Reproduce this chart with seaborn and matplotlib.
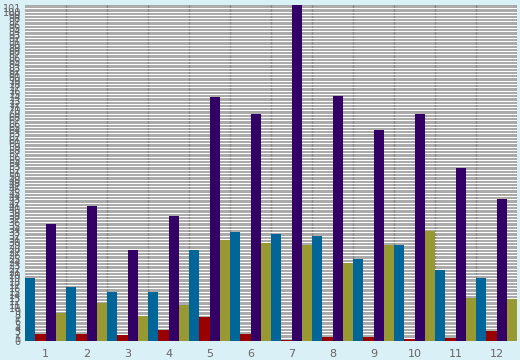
import numpy as np
import pandas as pd
import matplotlib
matplotlib.use("Agg")
import matplotlib.pyplot as plt
import seaborn as sns

groups = [str(i) for i in range(1, 13)]
series = ["A", "B", "C", "D"]
blue = [19, 16.4, 15, 15, 27.5, 33, 32.5, 32, 25, 29, 21.5, 19]
red = [2, 2, 1.8, 3.3, 7.3, 2, 0.3, 1.2, 1.2, 0.6, 0.9, 3]
purple = [35.5, 41, 27.5, 38, 74, 69, 102, 74.5, 64, 69, 52.5, 43]
olive = [8.5, 11.5, 7.6, 11, 30.6, 29.7, 29, 23.6, 29, 33.3, 13, 12.7]
colors = ["#006699", "#990000", "#330066", "#999933"]

df = pd.DataFrame({
    "group": groups * 4,
    "series": np.repeat(series, 12),
    "value": blue + red + purple + olive,
})

sns.set_style("white")
fig = plt.figure(figsize=(5.2, 3.6), dpi=100, facecolor="#daf0f7")
ax = fig.add_axes([25 / 520, 19 / 360, 492 / 520, 336 / 360])
ax.set_facecolor("#aaaaaa")

sns.barplot(data=df, x="group", y="value", hue="series", palette=colors,
            width=1.0, dodge=True, saturation=1, legend=False, ax=ax,
            edgecolor="none", linewidth=0, zorder=3)

# y axis: one tick per unit, labels crowd together like the original
ax.set_ylim(0, 102)
ax.set_xlim(-0.5, 11.5)
ax.set_yticks(np.arange(0, 102, 1))
ax.set_yticklabels([str(v) for v in range(0, 102)], fontsize=7, color="#666666")
ax.yaxis.grid(True, color="white", linewidth=0.75, zorder=0)
ax.set_axisbelow(True)

ax.set_xticks(range(12))
ax.set_xticklabels(groups, fontsize=8, color="#666666")
ax.set_xticks(np.arange(0.5, 11.6, 1), minor=True)
ax.tick_params(axis="x", which="major", length=0, pad=6)
ax.tick_params(axis="x", which="minor", length=7, color="#888888", width=1)
ax.tick_params(axis="y", length=2, color="#777777", width=1, pad=1)
ax.xaxis.grid(True, which="minor", color="#888888", linewidth=1)
ax.xaxis.grid(False, which="major")

for s in ax.spines.values():
    s.set_visible(False)
ax.set_xlabel("")
ax.set_ylabel("")

fig.savefig("out.png", dpi=100, facecolor=fig.get_facecolor())
